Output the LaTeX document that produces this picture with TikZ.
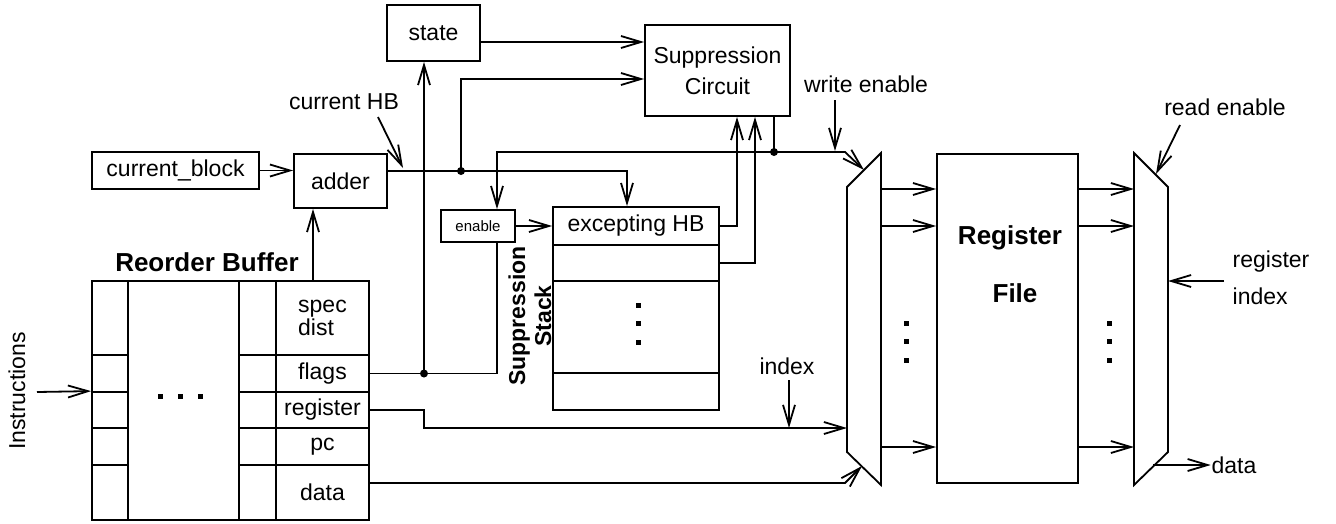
\documentclass[tikz,border=0pt]{standalone}
\usepackage{fontspec}
\setmainfont{Liberation Sans}
\usetikzlibrary{arrows.meta,calc}
\newcommand\fsn{\fontsize{23}{27}\selectfont}
\newcommand\fsc{\fontsize{23}{31}\selectfont}
\newcommand\fsd{\fontsize{23}{23}\selectfont}
\newcommand\fsb{\fontsize{26}{30}\selectfont\bfseries}
\newcommand\fsq{\fontsize{23}{26}\selectfont\bfseries}
\newcommand\fss{\fontsize{15}{18}\selectfont}
\begin{document}
\begin{tikzpicture}[x=1pt,y=-1pt,line width=1.8pt,
  box/.style={draw,inner sep=0pt,font=\fsn},
  lbl/.style={inner sep=0pt,font=\fsn},
  arr/.style={-{Straight Barb[length=20pt,width=12pt]}},
  jdot/.style={circle,fill,inner sep=0pt,minimum size=8pt},
  sq/.style={fill,inner sep=0pt,minimum size=5pt}]
\useasboundingbox (0,0) rectangle (1336,523);

% boxes
\node[box,minimum width=93,minimum height=56] (state) at (433.5,33) {state};
\node[box,minimum width=145,minimum height=91,align=center,font=\fsc] (sc) at (717.5,70.5) {Suppression\\Circuit};
\node[box,minimum width=167,minimum height=37] (cb) at (175.5,170.5) {current\_block};
\node[box,minimum width=93,minimum height=54] (adder) at (340.5,181) {adder};
\node[box,minimum width=74,minimum height=32,font=\fss] (en) at (478,226) {enable};
\node[box,minimum width=166,minimum height=38] (exc) at (636,226) {excepting HB};
\node[box,minimum width=166,minimum height=36] (s2) at (636,263) {};
\node[box,minimum width=166,minimum height=92] (s3) at (636,327) {};
\node[box,minimum width=166,minimum height=37] (s4) at (636,391.5) {};
\foreach \yy in {305,323,342} \node[sq] at (638,\yy) {};
\node[font=\fsq,rotate=90,align=center,inner sep=0pt] (sst) at (530,316) {Suppression\\Stack};

% reorder buffer
\node[box,minimum width=111,minimum height=239] (mid) at (183.5,400.5) {};
\foreach \yy/\hh/\i in {318/74/1,373.5/37/2,410/36/3,446.5/37/4,492.5/55/5}{
  \node[box,minimum width=36,minimum height=\hh] (l\i) at (110,\yy) {};
  \node[box,minimum width=37,minimum height=\hh] (c\i) at (257.5,\yy) {};
}
\node[box,minimum width=93,minimum height=74,align=left,font=\fsd] (spec) at (322.5,318) {spec\\dist};
\node[box,minimum width=93,minimum height=37] (flags) at (322.5,373.5) {flags};
\node[box,minimum width=93,minimum height=36] (reg) at (322.5,410) {register};
\node[box,minimum width=93,minimum height=37] (pc) at (322.5,446.5) {pc};
\node[box,minimum width=93,minimum height=55] (data) at (322.5,492.5) {data};
\foreach \xx in {160,180,200} \node[sq] at (\xx,396) {};
\node[lbl,font=\fsb] (robl) at (207,262) {Reorder Buffer};
\node[lbl,rotate=90] (instr) at (17,391) {Instructions};

% register file and muxes
\node[draw,inner sep=0pt,minimum width=141,minimum height=329] (rf) at (1007.5,318.5) {};
\node[lbl,font=\fsb] (rft1) at (1010,238) {Register};
\node[lbl,font=\fsb] (rft2) at (1015,293) {File};
\coordinate (m1a) at (847,187); \coordinate (m1b) at (881,153);
\coordinate (m1c) at (881,485); \coordinate (m1d) at (847,452);
\draw (m1a) -- (m1b) -- (m1c) -- (m1d) -- cycle;
\coordinate (m2a) at (1134,153); \coordinate (m2b) at (1168,187);
\coordinate (m2c) at (1168,452); \coordinate (m2d) at (1134,485);
\draw (m2a) -- (m2b) -- (m2c) -- (m2d) -- cycle;
\foreach \yy in {323,341,360}{\node[sq] at (906,\yy) {}; \node[sq] at (1109,\yy) {};}

% labels
\node[lbl] (chb) at (344,102) {current HB};
\node[lbl] (wel) at (866,84) {write enable};
\node[lbl] (rel) at (1225,107) {read enable};
\node[lbl] (idx) at (787,366) {index};
\node[lbl,align=left,font=\fontsize{23}{37}\selectfont] (rix) at (1271,278) {register\\index};
\node[lbl] (dout) at (1234,465) {data};

% junctions
\coordinate (j1) at (461,171);
\coordinate (j2) at (424,373.5);
\coordinate (j3) at (774,152);

% wires
\draw[arr] (cb.east) -- (cb.east -| adder.west);
\coordinate (robt) at (313,281);
\draw[arr] (robt) -- (robt |- adder.south);
\coordinate (addo) at (387,171); \coordinate (k627) at (627,171);
\draw[arr] (addo) -- (k627) -- (k627 |- exc.north);
\coordinate (a79) at (461,79);
\draw[arr] (j1) -- (a79) -- (a79 -| sc.west);
\coordinate (st42) at (480,42);
\draw[arr] (st42) -- (st42 -| sc.west);
\coordinate (f497) at (497,373.5);
\draw (flags.east) -- (f497) -- (f497 |- en.south);
\draw[arr] (j2) -- (j2 |- state.south);
\draw (j3 |- sc.south) -- (j3);
\coordinate (e497) at (497,152);
\draw[arr] (j3) -- (e497) -- (e497 |- en.north);
\coordinate (we) at (845,152);
\draw[arr] (j3) -- (we) -- ($(m1a)!0.5!(m1b)$);
\coordinate (x737) at (737,226);
\draw[arr] (exc.east) -- (x737) -- (x737 |- sc.south);
\coordinate (x755) at (755,263);
\draw[arr] (s2.east) -- (x755) -- (x755 |- sc.south);
\draw[arr] (en.east) -- (exc.west);
\coordinate (r1) at (424,410); \coordinate (r2) at (424,428);
\draw[arr] (reg.east) -- (r1) -- (r2) -- (r2 -| m1a);
\coordinate (d1) at (369,483); \coordinate (d2) at (845,483);
\draw[arr] (d1) -- (d2) -- (862,466);
\coordinate (ia) at (789,380); \coordinate (ib) at (789,428);
\draw[arr] (ia) -- (ib);
\coordinate (wa) at (835,100); \coordinate (wb) at (835,151);
\draw[arr] (wa) -- (wb);
\coordinate (ha) at (378,117); \coordinate (hb) at (403,168);
\draw[arr] (ha) -- (hb);
\coordinate (ins) at (37,392);
\draw[arr] (ins) -- (l3.north west);
\foreach \yy in {189,226,447}{
  \coordinate (p) at (881,\yy);
  \draw[arr] (p) -- (p -| rf.west);
  \coordinate (q) at (1134,\yy);
  \draw[arr] (q -| rf.east) -- (q);
}
\coordinate (ra) at (1180,125);
\draw[arr] (ra) -- (1156,174);
\coordinate (ria) at (1224,281); \coordinate (rib) at (1168,281);
\draw[arr] (ria) -- (rib);
\coordinate (da) at (1153,465);
\draw[arr] (da) -- (dout.west);

\node[jdot] at (j1) {};
\node[jdot] at (j2) {};
\node[jdot] at (j3) {};
\end{tikzpicture}
\end{document}
